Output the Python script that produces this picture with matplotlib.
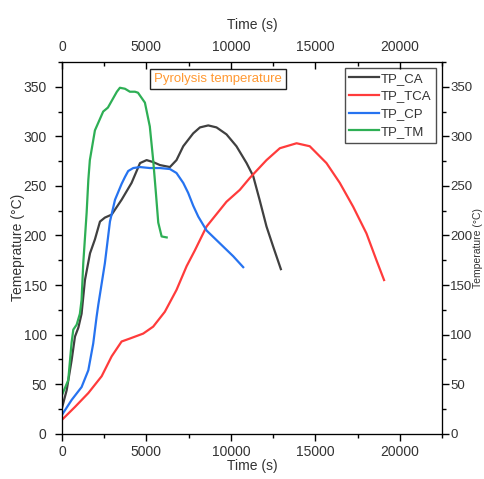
import matplotlib
matplotlib.use("Agg")
import matplotlib.pyplot as plt
from matplotlib.ticker import MultipleLocator

plt.rcParams['font.family'] = ['Liberation Sans', 'DejaVu Sans']

# TP_CA
t_ca = [0, 280, 570, 770, 970, 1160, 1360, 1660, 1950, 2250, 2540, 2940, 3530, 4120, 4620,
        5010, 5400, 5800, 6390, 6780, 7180, 7770, 8170, 8660, 9150, 9740, 10330, 10930,
        11320, 11700, 12110, 12500, 12960]
T_ca = [26, 44, 74, 98, 107, 121, 155, 182, 196, 214, 218, 221, 236, 253, 273,
        276, 274, 271, 269, 276, 290, 303, 309, 311, 309, 302, 290, 273,
        260, 236, 209, 189, 166]
# TP_TCA
t_tca = [0, 770, 1560, 2350, 2940, 3530, 4020, 4810, 5400, 6090, 6780, 7380, 7870, 8560, 9740,
         10530, 11120, 12110, 12900, 13890, 14670, 15660, 16450, 17240, 18030, 18620, 19070]
T_tca = [14, 27, 41, 58, 78, 93, 96, 101, 108, 123, 145, 169, 185, 209, 234,
         246, 258, 276, 288, 293, 290, 273, 253, 229, 202, 175, 155]
# TP_CP
t_cp = [0, 570, 1160, 1560, 1850, 2050, 2150, 2540, 2840, 3140, 3530, 3730, 3920, 4220, 4620,
        5200, 5800, 6390, 6780, 7180, 7470, 7770, 8070, 8560, 9350, 10140, 10730]
T_cp = [19, 34, 47, 64, 91, 118, 130, 172, 214, 236, 252, 259, 265, 268, 269,
        268, 268, 267, 263, 253, 243, 230, 219, 205, 192, 179, 168]
# TP_TM
t_tm = [0, 370, 570, 670, 870, 1060, 1160, 1260, 1460, 1560, 1650, 1950, 2440, 2720, 3250,
        3430, 3730, 4020, 4320, 4500, 4910, 5200, 5400, 5560, 5700, 5900, 6200]
T_tm = [39, 54, 92, 105, 110, 121, 135, 172, 223, 256, 276, 306, 325, 329, 345,
        349, 348, 345, 345, 344, 334, 310, 276, 243, 213, 199, 198]

series = [("TP_CA", t_ca, T_ca, "#404040"),
          ("TP_TCA", t_tca, T_tca, "#FF3B3B"),
          ("TP_CP", t_cp, T_cp, "#2673F0"),
          ("TP_TM", t_tm, T_tm, "#2EAF55")]

txt = "#333333"
fig = plt.figure(figsize=(4.85, 4.79), dpi=100)
ax = fig.add_axes([0.1278, 0.0946, 0.7835, 0.776])
for name, t, T, c in series:
    ax.plot(t, T, color=c, lw=1.6, label=name, solid_joinstyle='round')

ax.set_xlim(0, 22500)
ax.set_ylim(0, 375)
ax.xaxis.set_major_locator(MultipleLocator(5000))
ax.xaxis.set_minor_locator(MultipleLocator(2500))
ax.yaxis.set_major_locator(MultipleLocator(50))
ax.yaxis.set_minor_locator(MultipleLocator(25))
ax.tick_params(which='both', direction='out', labelsize=10, labelcolor=txt, width=1)
ax.tick_params(which='major', length=5)
ax.tick_params(which='minor', length=3)
ax.tick_params(axis='x', which='both', pad=3)
ax.tick_params(axis='y', which='both', pad=6)
ax.set_xlabel("Time (s)", fontsize=10, color=txt, labelpad=0)
ax.set_ylabel("Temeprature (°C)", fontsize=10, color=txt, labelpad=-1)

axt = ax.twiny()
axt.set_xlim(ax.get_xlim())
axt.xaxis.set_major_locator(MultipleLocator(5000))
axt.xaxis.set_minor_locator(MultipleLocator(2500))
axt.tick_params(which='both', direction='in', labelsize=10, labelcolor=txt, width=1, pad=6)
axt.tick_params(which='major', length=5)
axt.tick_params(which='minor', length=3)
axt.set_xlabel("Time (s)", fontsize=10, color=txt, labelpad=8)

axr = ax.twinx()
axr.set_ylim(ax.get_ylim())
axr.yaxis.set_major_locator(MultipleLocator(50))
axr.yaxis.set_minor_locator(MultipleLocator(25))
axr.tick_params(which='both', direction='out', labelsize=9.5, labelcolor=txt, width=1, pad=1)
axr.tick_params(which='major', length=5)
axr.tick_params(which='minor', length=3)
axr.set_ylabel("Temperature (°C)", fontsize=7.5, color=txt)
axr.yaxis.set_label_coords(1.096, 0.5)
axr.yaxis.label.set_verticalalignment('center')

leg = ax.legend(loc='upper right', fontsize=9.5, frameon=True, fancybox=False,
                edgecolor='#222222', handlelength=2.3, handletextpad=0.1,
                borderpad=0.35, labelspacing=0.42, borderaxespad=0.45)
leg.get_frame().set_linewidth(1.0)
for t in leg.get_texts():
    t.set_color(txt)

ax.text(0.243, 0.955, "Pyrolysis temperature", transform=ax.transAxes, fontsize=9.5,
        color="#FF9933", ha='left', va='center',
        bbox=dict(boxstyle='square,pad=0.3', fc='white', ec='#222222', lw=1))

fig.savefig("out.png", dpi=100)
